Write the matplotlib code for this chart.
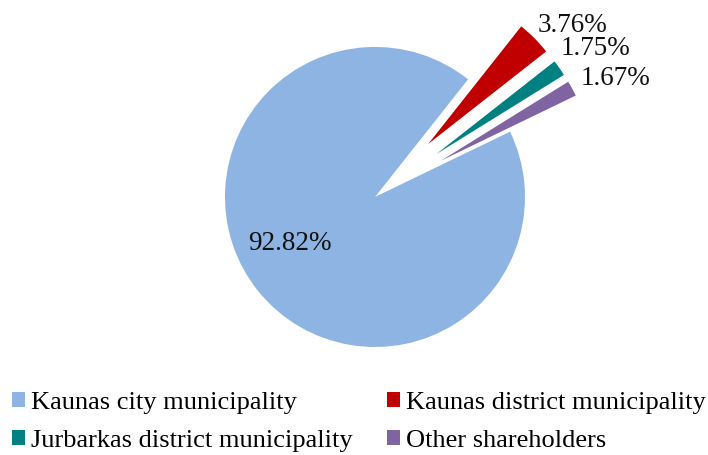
import matplotlib.pyplot as plt
from matplotlib.patches import Patch
import numpy as np

shareholders = ["Kaunas city municipality", "Kaunas district municipality",
                "Jurbarkas district municipality", "Other shareholders"]
shares = [92.82, 3.76, 1.75, 1.67]
colors = ["#8DB4E2", "#C00000", "#008080", "#8064A2"]
explode = [0, 0.5, 0.5, 0.5]

plt.rcParams["font.family"] = ["Liberation Serif", "DejaVu Serif"]

fig = plt.figure(figsize=(7.08, 4.55), dpi=100)
ax = fig.add_axes([0, 0, 1, 1])

wedges, texts, autotexts = ax.pie(shares, colors=colors, explode=explode,
                                  startangle=25.8, counterclock=False,
                                  autopct="%.2f%%", pctdistance=0.64,
                                  wedgeprops=dict(linewidth=0),
                                  textprops=dict(fontsize=19.5, color="#111111"))

# label positions (in radius units from pie centre)
label_pos = [(-0.57, -0.31), (1.32, 1.14), (1.467, 0.99), (1.6, 0.79)]
for t, (x, y) in zip(autotexts, label_pos):
    t.set_position((x, y))
    t.set_ha("center")
    t.set_va("center")

ax.set_xlim(-2.5, 2.22)
ax.set_ylim(-1.72, 1.313)
ax.set_aspect("auto")
ax.axis("off")

handles = [Patch(facecolor=c, edgecolor="none") for c in colors]
order = [0, 2, 1, 3]
fig.legend([handles[i] for i in order], [shareholders[i] for i in order],
           ncol=2, loc="upper left", bbox_to_anchor=(0.017, 0.138),
           frameon=False, fontsize=19, handlelength=0.5, handleheight=0.5,
           handletextpad=0.22, columnspacing=1.3, labelspacing=0.6,
           borderpad=0, borderaxespad=0)

fig.savefig("out.png", dpi=100)
